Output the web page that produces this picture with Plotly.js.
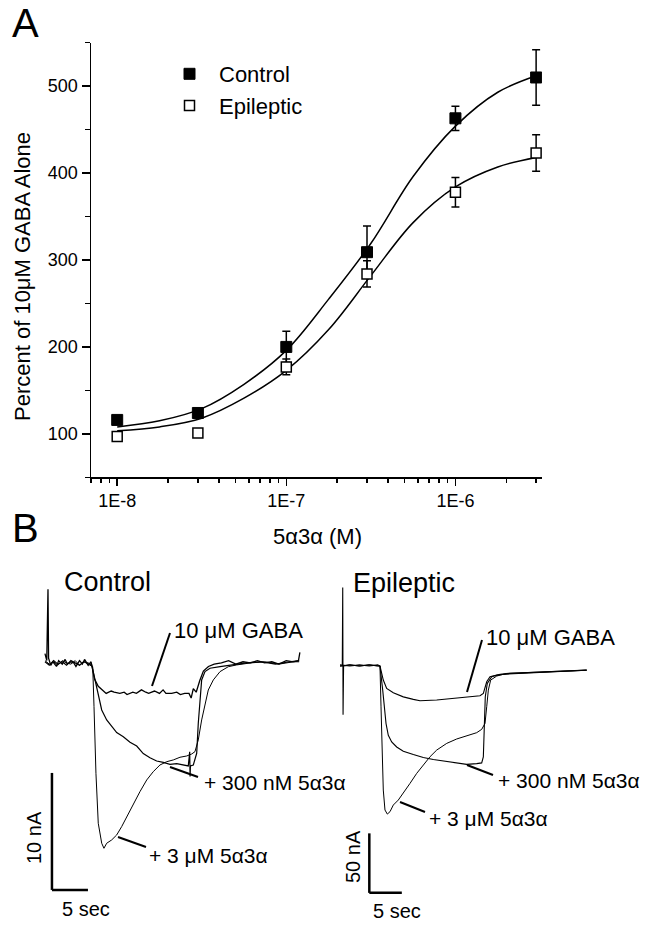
<!DOCTYPE html>
<html lang="en">
<head>
<meta charset="UTF-8">
<title>5α3α potentiation of GABA currents</title>
<script src="https://cdn.plot.ly/plotly-3.0.1.min.js"></script>
<style>
  body { margin: 0; background: white; }
  #plot { width: 654px; height: 926px; }
</style>
</head>
<body>
<div id="plot"></div>
<script>
// ---- Panel A: concentration-response ----
const conc = [1e-8, 3e-8, 1e-7, 3e-7, 1e-6, 3e-6];
const controlMean = [116, 124, 200, 309, 463, 510];
const controlErr = [4, 4, 18, 30, 14, 32];
const epilepticMean = [97, 101, 177, 284, 378, 423];
const epilepticErr = [4, 4, 9, 15, 17, 21];

// fitted curves
const fitConc = [1e-8, 1.78e-8, 3.16e-8, 5.62e-8, 1e-7, 1.78e-7, 3.16e-7, 5.62e-7, 1e-6, 1.78e-6, 3e-6];
const controlFit = [108, 115, 129, 157, 196, 255, 319, 396, 454, 493, 512];
const epilepticFit = [103.5, 108, 118, 141, 173, 220, 282, 343, 384, 407, 418];

const majorTicks = [1e-8, 1e-7, 1e-6];
const majorLabels = ['1E-8', '1E-7', '1E-6'];

// ---- Panel B: current traces (time in s, current in nA) ----
const ctlGabaT = [0, 0.25, 0.42, 0.5, 0.8, 1.1, 1.6, 1.9, 2.4, 2.8, 3.1, 3.6, 4.0, 4.3, 4.8, 5.2, 5.5, 6.0, 6.4,
  6.9, 7.4, 8.0, 8.5, 9.2, 9.6, 10.4, 11.0, 11.4, 12.2, 12.7, 13.4, 14.0, 14.4, 15.2, 15.9, 16.4, 16.8, 17.6, 18.3, 18.8, 19.4, 20.0,
  20.3, 20.6, 21.0, 21.5, 22.0, 22.7, 23.5, 24.5, 25.5, 26.5, 27.5, 28.5, 29.5, 30.5, 31.5, 32.5, 33.5, 34.5, 35.2, 35.4];
const ctlGabaI = [0.8, 0.2, 6.3, 0.4, -0.2, 0.1, -0.3, 0.2, -0.1, 0.3, -0.1, 0.1, 0.0, -0.3, 0.2, -0.1, 0.3, -0.2, 0.1,
  -1.4, -2.0, -2.3, -2.6, -2.4, -2.5, -2.6, -2.5, -2.7, -2.5, -2.6, -2.3, -2.5, -2.6, -2.4, -2.6, -2.3, -2.6, -2.6, -2.5, -2.7, -2.6, -2.6,
  -3.0, -2.2, -2.5, -1.5, -0.7, -0.3, -0.1, 0.0, 0.2, -0.1, 0.1, 0.0, 0.2, 0.0, 0.1, -0.1, 0.2, 0.1, 0.2, 0.9];

const ctl300T = [0, 0.6, 1.2, 1.8, 2.4, 3.0, 3.6, 4.2, 4.8, 5.4, 6.0,
  6.49, 6.94, 7.40, 7.88, 8.57, 9.26, 9.96, 10.88, 11.81, 12.74, 13.65, 14.58, 15.51, 16.43, 17.36, 18.29, 19.21,
  19.9, 20.1, 20.15, 20.2, 20.6, 21.07, 21.29, 21.53, 21.76, 22.22, 22.92, 24.31, 26.1, 28, 30, 32, 34, 35.3];
const ctl300I = [0.1, -0.2, 0.2, -0.1, 0.1, -0.2, 0.2, 0.0, -0.2, 0.1, 0.0,
  -0.17, -1.45, -2.88, -4.02, -4.87, -5.42, -5.95, -6.3, -6.78, -7.1, -7.75, -8.1, -8.38, -8.5, -8.66, -8.6, -8.74,
  -8.8, -7.6, -9.7, -8.8, -8.72, -7.72, -5.15, -2.88, -1.45, -0.74, -0.45, -0.32, -0.17, 0.0, 0.1, -0.1, 0.1, 0.2];

const ctl3T = [0, 0.6, 1.2, 1.8, 2.4, 3.0, 3.6, 4.2, 4.8, 5.4, 6.0,
  6.63, 6.81, 7.08, 7.40, 7.88, 8.19, 8.57, 9.26, 9.96, 10.65, 11.35, 12.26, 13.19, 14.13, 15.04, 15.97, 16.90, 17.82, 18.75, 19.68,
  20.38, 20.83, 21.29, 21.76, 22.22, 22.68, 23.38, 24.31, 25.46, 26.6, 28.5, 30.5, 32.5, 34.5, 35.3];
const ctl3I = [0.2, -0.1, 0.1, -0.2, 0.2, 0.0, -0.1, 0.2, -0.2, 0.1, -0.1,
  -0.32, -3.73, -9.43, -13.70, -15.41, -15.84, -15.41, -15.13, -14.70, -13.99, -13.14, -11.99, -11.0, -10.0, -9.29, -8.72, -8.44, -8.29, -8.06, -7.95,
  -7.78, -7.58, -6.58, -4.87, -3.44, -2.31, -1.45, -0.74, -0.32, -0.17, 0.0, 0.1, -0.1, 0.1, 0.1];

const epiGabaT = [0, 0.35, 0.42, 0.47, 0.55, 1.5, 3, 4.5, 5.8, 6.15,
  6.66, 7.18, 8.2, 9.74, 11.28, 12.31, 14.88, 17.43, 20.0, 21.54,
  22.05, 22.31, 22.57, 23.08, 24.11, 26.15, 27.69, 30.0, 32.77, 35.5, 37.95];
const epiGabaI = [0, 0, 66, -41, 0, 1, 0, 1, 0, 0,
  -11.8, -18.8, -22.5, -25.9, -28.0, -29.2, -28.6, -27.2, -25.8, -25.0,
  -23.0, -17.4, -13.2, -9.0, -7.6, -6.2, -5.9, -5.4, -4.8, -4.0, -3.4];

const epi300T = [0, 1.5, 3, 4.5, 5.8, 6.15,
  6.57, 6.77, 7.08, 7.43, 7.95, 8.72, 9.74, 11.28, 12.82, 14.35,
  15.89, 17.95, 19.49, 21.03, 21.8, 22.05, 22.2, 22.35, 22.66, 23.34,
  24.62, 27.69, 30.5, 32.77, 35.5, 37.95];
const epi300I = [1, 0, 1, 0, 1, 0,
  -20.2, -34.3, -48.3, -58.2, -63.8, -68.0, -71.6, -74.4, -76.9, -78.6,
  -79.8, -82.0, -82.6, -82.0, -81.4, -76.4, -48.3, -25.8, -14.6, -9.0,
  -7.0, -6.2, -5.6, -5.0, -4.2, -3.6];

const epi3T = [0, 1.5, 3, 4.5, 5.8, 6.15,
  6.31, 6.46, 6.66, 6.92, 7.28, 7.69, 8.2, 8.97, 9.74, 10.77,
  11.8, 12.82, 13.85, 14.88, 16.42, 17.95, 19.49, 21.03, 21.8, 22.31,
  22.57, 22.82, 23.18, 24.11, 25.65, 27.69, 30.5, 32.77, 35.5, 37.95];
const epi3I = [0, 1, 0, 1, 0, 0,
  -34.3, -76.4, -104.2, -121.0, -124.4, -122.4, -116.8, -112.6, -107.0, -98.6,
  -90.2, -83.2, -76.2, -70.6, -65.0, -61.3, -58.6, -56.0, -53.2, -48.2,
  -34.2, -20.2, -11.8, -8.4, -6.2, -5.6, -5.2, -4.6, -4.0, -3.4];

const scaleTime = 5;      // s
const scaleCtl = 10;      // nA
const scaleEpi = 50;      // nA

// ---- helpers: pixel -> paper ----
const W = 654, H = 926;
const px = v => v / W;
const py = v => 1 - v / H;

const FONT = 'Arial, "Liberation Sans", Helvetica, sans-serif';

// minor ticks on the log axis
const minorVals = [];
for (let e = -9; e <= -6; e++) {
  for (let m = 2; m <= 9; m++) minorVals.push(m * Math.pow(10, e));
}

const traceLine = (x, y, xa, ya, w) => ({
  x: x, y: y, xaxis: xa, yaxis: ya, type: 'scatter', mode: 'lines',
  line: { color: 'black', width: w }, showlegend: false, hoverinfo: 'skip'
});

const traces = [
  { x: fitConc, y: controlFit, type: 'scatter', mode: 'lines', line: { color: 'black', width: 1.5, shape: 'spline' }, showlegend: false },
  { x: fitConc, y: epilepticFit, type: 'scatter', mode: 'lines', line: { color: 'black', width: 1.5, shape: 'spline' }, showlegend: false },
  {
    x: conc, y: controlMean, name: 'Control', type: 'scatter', mode: 'markers',
    marker: { symbol: 'square', size: 11, color: 'black', line: { color: 'black', width: 1 } },
    error_y: { type: 'data', array: controlErr, color: 'black', thickness: 1.5, width: 4 }
  },
  {
    x: conc, y: epilepticMean, name: 'Epileptic', type: 'scatter', mode: 'markers',
    marker: { symbol: 'square', size: 10, color: 'white', line: { color: 'black', width: 1.5 } },
    error_y: { type: 'data', array: epilepticErr, color: 'black', thickness: 1.5, width: 4 }
  },
  traceLine(ctlGabaT, ctlGabaI, 'x2', 'y2', 1.3),
  traceLine(ctl300T, ctl300I, 'x2', 'y2', 1.2),
  traceLine(ctl3T, ctl3I, 'x2', 'y2', 1.0),
  traceLine(epiGabaT, epiGabaI, 'x3', 'y3', 1.1),
  traceLine(epi300T, epi300I, 'x3', 'y3', 1.1),
  traceLine(epi3T, epi3I, 'x3', 'y3', 1.0)
];

// scale bar anchors (data units of each panel)
const ctlBarT = 0.97, ctlBarI = -19.4;
const epiBarT = 4.51, epiBarI = -190.6;

const barLine = { color: 'black', width: 2.5 };
const ptrLine = { color: 'black', width: 2 };
const pointer = (x0, y0, x1, y1) => ({
  type: 'line', xref: 'paper', yref: 'paper',
  x0: px(x0), y0: py(y0), x1: px(x1), y1: py(y1), line: ptrLine
});

const shapes = [
  { type: 'line', xref: 'x2', yref: 'y2', x0: ctlBarT, y0: ctlBarI, x1: ctlBarT, y1: ctlBarI + scaleCtl, line: barLine },
  { type: 'line', xref: 'x2', yref: 'y2', x0: ctlBarT, y0: ctlBarI, x1: ctlBarT + scaleTime, y1: ctlBarI, line: barLine },
  { type: 'line', xref: 'x3', yref: 'y3', x0: epiBarT, y0: epiBarI, x1: epiBarT, y1: epiBarI + scaleEpi, line: barLine },
  { type: 'line', xref: 'x3', yref: 'y3', x0: epiBarT, y0: epiBarI, x1: epiBarT + scaleTime, y1: epiBarI, line: barLine },
  pointer(170, 633, 152, 686),
  pointer(482, 640, 467, 692),
  pointer(170, 767, 198, 777),
  pointer(467, 765, 493, 775),
  pointer(118, 837, 146, 847),
  pointer(400, 802, 425, 812)
];

const label = (text, x, y, size, xanchor, angle) => ({
  text: text, xref: 'paper', yref: 'paper', x: px(x), y: py(y),
  xanchor: xanchor || 'left', yanchor: 'middle', showarrow: false,
  textangle: angle || 0, font: { family: FONT, size: size, color: 'black' }
});

const annotations = [
  label('A', 10, 23, 40),
  label('B', 10, 528, 40),
  label('Percent of 10μM GABA Alone', 22, 277, 22, 'center', -90),
  label('5α3α (M)', 317, 536, 22, 'center'),
  label('Control', 62, 582, 27),
  label('Epileptic', 351, 583, 27),
  label('10 μM GABA', 172, 630, 22),
  label('10 μM GABA', 484, 637, 22),
  label('+ 300 nM 5α3α', 202, 782, 21),
  label('+ 300 nM 5α3α', 496, 780, 21),
  label('+ 3 μM 5α3α', 147, 855, 21),
  label('+ 3 μM 5α3α', 427, 818, 21),
  label('10 nA', 34, 838, 20, 'center', -90),
  label('5 sec', 86, 909, 20, 'center'),
  label('50 nA', 353, 857, 20, 'center', -90),
  label('5 sec', 397, 911, 20, 'center')
];

const hidden = { visible: false, showgrid: false, zeroline: false, fixedrange: true };

const layout = {
  width: W, height: H,
  margin: { l: 0, r: 0, t: 0, b: 0 },
  paper_bgcolor: 'white', plot_bgcolor: 'rgba(0,0,0,0)',
  font: { family: FONT, color: 'black' },
  showlegend: true,
  legend: {
    x: px(160), y: py(53), xanchor: 'left', yanchor: 'top',
    bgcolor: 'rgba(0,0,0,0)', borderwidth: 0, itemwidth: 49,
    font: { family: FONT, size: 22 }, tracegroupgap: 0
  },
  xaxis: {
    type: 'log', domain: [px(91), px(542)], range: [Math.log10(7e-9), Math.log10(3.25e-6)],
    anchor: 'y', showline: true, linecolor: 'black', linewidth: 1.5,
    ticks: 'outside', ticklen: 7, tickwidth: 1.5, tickcolor: 'black',
    tickmode: 'array', tickvals: majorTicks, ticktext: majorLabels,
    minor: { tickmode: 'array', tickvals: minorVals, ticks: 'outside', ticklen: 4, tickwidth: 1.5, tickcolor: 'black', showgrid: false },
    tickfont: { family: FONT, size: 18 }, showgrid: false, zeroline: false
  },
  yaxis: {
    domain: [py(477.3), py(42.7)], range: [50, 550], anchor: 'x',
    showline: true, linecolor: 'black', linewidth: 1.5,
    ticks: 'outside', ticklen: 8, tickwidth: 1.5, tickcolor: 'black',
    tickmode: 'array', tickvals: [100, 200, 300, 400, 500],
    minor: { tickmode: 'array', tickvals: [50, 150, 250, 350, 450, 550], ticks: 'outside', ticklen: 5, tickwidth: 1.5, tickcolor: 'black', showgrid: false },
    tickfont: { family: FONT, size: 18 }, showgrid: false, zeroline: false
  },
  xaxis2: Object.assign({ domain: [px(40), px(305)], range: [-0.69, 36.11], anchor: 'y2' }, hidden),
  yaxis2: Object.assign({ domain: [py(900), py(580)], range: [-20.26, 7.09], anchor: 'x2' }, hidden),
  xaxis3: Object.assign({ domain: [px(335), px(600)], range: [-0.77, 40], anchor: 'y3' }, hidden),
  yaxis3: Object.assign({ domain: [py(900), py(580)], range: [-196.6, 72.3], anchor: 'x3' }, hidden),
  shapes: shapes,
  annotations: annotations
};

Plotly.newPlot('plot', traces, layout, { staticPlot: true, displayModeBar: false });
</script>
</body>
</html>
